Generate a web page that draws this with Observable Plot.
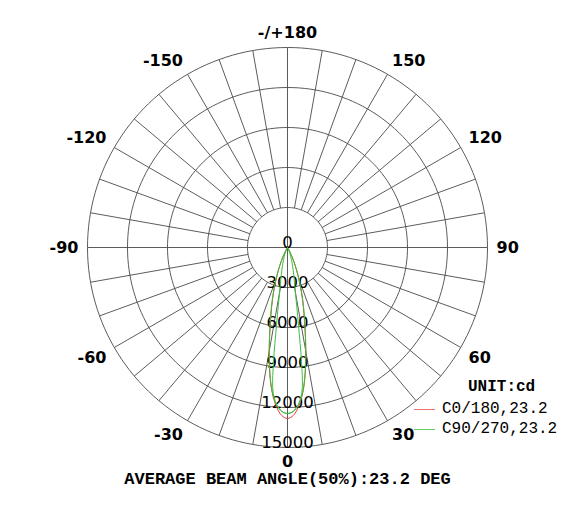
<!DOCTYPE html>
<html><head><meta charset="utf-8">
<script src="https://cdn.jsdelivr.net/npm/d3@7"></script>
<script src="https://cdn.jsdelivr.net/npm/@observablehq/plot@0.6"></script>
<style>
body{margin:0;background:#fff;}
#wrap{position:relative;width:584px;height:506px;}
.lg{position:absolute;font-family:"Liberation Mono","Courier New",monospace;font-size:16px;line-height:18px;color:#000;white-space:nowrap;}
.sw{position:absolute;height:0;border-top:1px solid;}
</style></head><body><div id="wrap"></div>
<script>
// Polar grid ticks
const ringValues = [3000, 6000, 9000, 12000, 15000];
const ringLabelValues = [0, 3000, 6000, 9000, 12000, 15000];
const angleTicks = [0, 30, 60, 90, 120, 150, 180, -150, -120, -90, -60, -30];
const angleLabels = ["0", "30", "60", "90", "120", "150", "-/+180", "-150", "-120", "-90", "-60", "-30"];
const spokeAngles = d3.range(0, 360, 10);
const rMax = 15000;

// Luminous intensity (cd) vs gamma angle (deg), symmetric about 0
const gamma = [0, 2, 4, 6, 8, 10, 12, 14, 16, 18, 20, 22, 24, 26, 28, 30, 32];
const c0_180 = [12825, 12600, 11950, 10950, 9550, 7900, 6350, 5100, 4100, 3200, 2400, 1750, 1200, 750, 380, 140, 0];
const c90_270 = [12450, 12300, 11800, 10900, 9500, 7900, 6400, 5200, 4200, 3300, 2500, 1850, 1300, 800, 400, 150, 0];
// second green trace (narrow near the base)
const gammaInner = [0, 2, 4, 5, 6, 7, 8, 9, 10, 12, 14, 16, 18, 20, 24, 28, 32];
const c90_270_inner = [12450, 12300, 11800, 11350, 10600, 8600, 6000, 4400, 3400, 2400, 1750, 1300, 950, 700, 350, 100, 0];

const seriesNames = ["C0/180,23.2", "C90/270,23.2"];
const seriesColors = ["#e83a3a", "#3cbf3c"];
const legendColors = ["#f07070", "#5fd35f"];
const caption = "AVERAGE BEAM ANGLE(50%):23.2 DEG";
const unitText = "UNIT:cd";

const rad = d => d * Math.PI / 180;
const P = (g, v) => ({x: v * Math.sin(rad(g)), y: -v * Math.cos(rad(g))});
function lobe(gs, vs) {
  const pts = [];
  for (let i = gs.length - 1; i >= 0; i--) pts.push(P(-gs[i], vs[i]));
  for (let i = 1; i < gs.length; i++) pts.push(P(gs[i], vs[i]));
  return pts;
}
const circleAngles = d3.range(0, 361, 2);
const rings = ringValues.flatMap(r => circleAngles.map(a => ({...P(a, r), ring: r})));
const spokes = spokeAngles.map(a => {
  const r0 = a % 90 === 0 ? 0 : ringValues[0];
  const p0 = P(a, r0), p1 = P(a, rMax);
  return {x1: p0.x, y1: p0.y, x2: p1.x, y2: p1.y};
});
const labelR = 15680;
const labelRBottom = 16080;
const angleLabelData = angleTicks.map((a, i) => {
  const s = Math.sin(rad(a)), c = Math.cos(rad(a));
  const ta = Math.abs(s) < 1e-6 ? "middle" : (s > 0 ? "start" : "end");
  let la = Math.abs(c) < 1e-6 ? "middle" : (c > 0 ? "top" : "bottom");
  let r = labelR;
  if (a === 0) { la = "middle"; r = labelRBottom; }
  return {...P(a, r), t: angleLabels[i], ta, la};
});
const ringLabelData = ringLabelValues.map(v => ({x: 0, y: -v, t: String(v)}));

const red = lobe(gamma, c0_180);
const green = lobe(gamma, c90_270);
const greenInner = lobe(gammaInner, c90_270_inner);

const gridColor = "#4a4a4a";
const labelStyle = {x: "x", y: "y", text: "t", fontSize: 16, fontWeight: "bold", fontFamily: "DejaVu Sans", fill: "#000"};
const labelMarks = [];
for (const ta of ["start", "middle", "end"]) for (const la of ["top", "middle", "bottom"]) {
  const sub = angleLabelData.filter(d => d.ta === ta && d.la === la);
  if (sub.length) labelMarks.push(Plot.text(sub, {...labelStyle, textAnchor: ta, lineAnchor: la}));
}
const chart = Plot.plot({
  width: 584, height: 506,
  marginLeft: 87, marginRight: 97, marginTop: 47, marginBottom: 59,
  x: {domain: [-rMax, rMax], axis: null},
  y: {domain: [-rMax, rMax], axis: null},
  style: {background: "#fff", overflow: "visible"},
  marks: [
    Plot.line(rings, {x: "x", y: "y", z: "ring", stroke: gridColor, strokeWidth: 0.9}),
    Plot.link(spokes, {x1: "x1", y1: "y1", x2: "x2", y2: "y2", stroke: gridColor, strokeWidth: 0.9}),
    Plot.text(ringLabelData, {x: "x", y: "y", text: "t", lineAnchor: "bottom", fontSize: 16.5, fontFamily: "DejaVu Sans", fill: "#000"}),
    Plot.line(red, {x: "x", y: "y", stroke: seriesColors[0], strokeWidth: 1, curve: "catmull-rom"}),
    Plot.line(green, {x: "x", y: "y", stroke: seriesColors[1], strokeWidth: 1, curve: "catmull-rom"}),
    Plot.line(greenInner, {x: "x", y: "y", stroke: seriesColors[1], strokeWidth: 1, curve: "catmull-rom"}),
    ...labelMarks,
    Plot.text([caption], {text: d => d, frameAnchor: "bottom", dy: 31, lineAnchor: "middle", fontSize: 17, fontWeight: "bold", fontFamily: "Liberation Mono", fill: "#000"})
  ]
});
const wrap = document.getElementById("wrap");
wrap.appendChild(chart);

// legend
function addDiv(cls, text, style) {
  const d = document.createElement("div");
  d.className = cls; if (text) d.textContent = text;
  Object.assign(d.style, style); wrap.appendChild(d); return d;
}
addDiv("lg", unitText, {left: "468px", top: "378px", fontWeight: "bold"});
seriesNames.forEach((name, i) => {
  const top = 400 + i * 20;
  addDiv("sw", "", {left: "414px", top: (top + 9) + "px", width: "21px", borderTopColor: legendColors[i]});
  addDiv("lg", name, {left: "442px", top: top + "px"});
});
</script>
</body></html>
